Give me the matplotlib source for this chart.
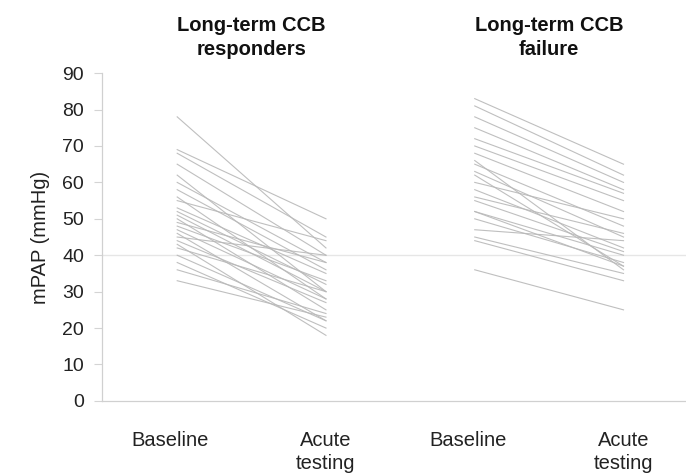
import matplotlib.pyplot as plt
from matplotlib.transforms import ScaledTranslation

plt.rcParams["font.family"] = ["Liberation Sans", "DejaVu Sans"]

GROUP_TITLES = ["Long-term CCB\nresponders", "Long-term CCB\nfailure"]
TICK_LABELS = ["Baseline", "Acute\ntesting", "Baseline", "Acute\ntesting"]
Y_TICKS = [0, 10, 20, 30, 40, 50, 60, 70, 80, 90]
THRESHOLD = 40

# mPAP (mmHg) per patient: baseline, acute testing
RESPONDERS_BASELINE = [78, 69, 68, 65, 62, 60, 58, 56, 55, 53, 52, 51, 50,
                       49, 48, 47, 46, 45, 44, 43, 42, 40, 38, 36, 33]
RESPONDERS_ACUTE = [42, 50, 45, 40, 30, 38, 36, 28, 44, 35, 32, 30, 25,
                    38, 33, 28, 22, 40, 27, 18, 30, 22, 20, 24, 23]

FAILURE_BASELINE = [83, 81, 78, 75, 72, 70, 68, 66, 65, 63, 62, 60, 58,
                    56, 55, 52, 52, 50, 47, 45, 44, 36]
FAILURE_ACUTE = [65, 62, 60, 58, 57, 55, 52, 36, 48, 45, 37, 50, 42,
                 46, 41, 40, 37, 38, 44, 35, 33, 25]


def main() -> None:
    fig = plt.figure(figsize=(6.86, 4.75), dpi=100)
    ax = fig.add_axes((0.149, 0.156, 0.851, 0.69))

    line_kw = dict(color="#b8b8b8", linewidth=0.8, alpha=0.9)
    for base, acute in zip(RESPONDERS_BASELINE, RESPONDERS_ACUTE):
        ax.plot([0, 1], [base, acute], **line_kw)
    for base, acute in zip(FAILURE_BASELINE, FAILURE_ACUTE):
        ax.plot([2, 3], [base, acute], **line_kw)

    ax.axhline(THRESHOLD, color="#e6e6e6", linewidth=1.0, zorder=0)

    ax.set_xlim(-0.504, 3.42)
    ax.set_ylim(0, 90)
    ax.set_yticks(Y_TICKS)
    ax.set_xticks(range(len(TICK_LABELS)))
    ax.set_xticklabels(TICK_LABELS, fontsize=14.5, color="#222222", linespacing=1.25)
    ax.tick_params(axis="x", length=0, pad=22)
    ax.tick_params(axis="y", length=6, width=0.8, color="#d4d4d4",
                   labelsize=14, labelcolor="#222222", pad=7)

    # baseline labels sit a little left of the line starts
    shift = ScaledTranslation(-5 / 72, 0, fig.dpi_scale_trans)
    for label in ax.get_xticklabels()[::2]:
        label.set_transform(label.get_transform() + shift)

    for side in ("top", "right"):
        ax.spines[side].set_visible(False)
    for side in ("left", "bottom"):
        ax.spines[side].set_color("#d0d0d0")
        ax.spines[side].set_linewidth(0.9)

    ax.set_ylabel("mPAP (mmHg)", fontsize=14.5, color="#222222", labelpad=9)

    for center, title in zip([0.5, 2.5], GROUP_TITLES):
        ax.text(center, 1.109, title, transform=ax.get_xaxis_transform(),
                ha="center", va="center", fontsize=14.5, fontweight="bold",
                color="#111111", linespacing=1.3)

    fig.savefig("out.png", dpi=100)


if __name__ == "__main__":
    main()
